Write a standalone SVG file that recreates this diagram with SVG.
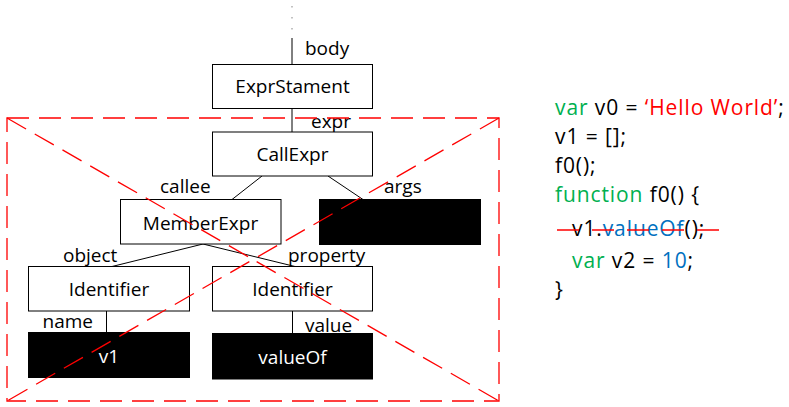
<svg xmlns="http://www.w3.org/2000/svg" width="789" height="407" viewBox="0 0 789 407">
<style>
.box{fill:#fff;stroke:#000;stroke-width:1}
.blk{fill:#000;stroke:#000;stroke-width:1}
.t{font-family:"Open Sans","Noto Sans","Liberation Sans",sans-serif;font-size:19px;fill:#000}
.c{text-anchor:middle}
.w{fill:#fff}
.edge{stroke:#000;stroke-width:1;fill:none}
.red{stroke:#f00;stroke-width:1.3;fill:none;stroke-dasharray:22 10}
.code{font-family:"Open Sans","Noto Sans","Liberation Sans",sans-serif;font-size:21px;letter-spacing:0.9px;fill:#000}
.g{fill:#00b050}
.r{fill:#f00}
.b{fill:#0070c0}
</style>
<rect width="789" height="407" fill="#fff"/>
<g id="connectors">
<line x1="292" y1="6" x2="292" y2="7.5" stroke="#999" stroke-width="1.2"/>
<line x1="292" y1="17" x2="292" y2="18.5" stroke="#999" stroke-width="1.2"/>
<line x1="292" y1="28" x2="292" y2="29.5" stroke="#999" stroke-width="1.2"/>
<line class="edge" x1="292" y1="38" x2="292" y2="64"/>
<line class="edge" x1="292" y1="108" x2="292" y2="132"/>
<line class="edge" x1="262" y1="176" x2="232" y2="199.5"/>
<line class="edge" x1="328" y1="176" x2="363" y2="199.5"/>
<line class="edge" x1="203" y1="244" x2="112" y2="266.5"/>
<line class="edge" x1="203" y1="244" x2="295" y2="266.5"/>
<line class="edge" x1="106.5" y1="311" x2="106.5" y2="332.5"/>
<line class="edge" x1="292.5" y1="311" x2="292.5" y2="333.5"/>
<text class="t" x="305" y="55">body</text>
<text class="t" x="311" y="128">expr</text>
<text class="t" x="160" y="193">callee</text>
<text class="t" x="384" y="193">args</text>
<text class="t" x="63" y="261.5">object</text>
<text class="t" x="288" y="261.5">property</text>
<text class="t" x="42.5" y="328">name</text>
<text class="t" x="305" y="331.5">value</text>
</g>
<g id="ExprStament">
<rect class="box" x="212.5" y="64.5" width="160" height="44"/>
<text class="t c" x="292.5" y="93">ExprStament</text>
</g>
<g id="CallExpr">
<rect class="box" x="212.5" y="132" width="160" height="44"/>
<text class="t c" x="292.5" y="161">CallExpr</text>
</g>
<g id="MemberExpr">
<rect class="box" x="120.5" y="199.5" width="160.5" height="44.5"/>
<text class="t c" x="200.5" y="229.5">MemberExpr</text>
</g>
<g id="args">
<rect class="blk" x="319.5" y="199.5" width="161" height="45"/>
</g>
<g id="Identifier1">
<rect class="box" x="28.5" y="266.5" width="161" height="44.5"/>
<text class="t c" x="109" y="296">Identifier</text>
</g>
<g id="Identifier2">
<rect class="box" x="212.5" y="266.5" width="160" height="44.5"/>
<text class="t c" x="292.5" y="296">Identifier</text>
</g>
<g id="v1">
<rect class="blk" x="28.5" y="332.5" width="161" height="45"/>
<text class="t c w" x="109" y="362.5">v1</text>
</g>
<g id="valueOf">
<rect class="blk" x="212.5" y="333.5" width="160" height="45.5"/>
<text class="t c w" x="292.5" y="363.5">valueOf</text>
</g>
<g id="cross">
<rect class="red" x="7" y="118" width="492" height="283"/>
<line class="red" x1="7" y1="118" x2="499" y2="401"/>
<line class="red" x1="499" y1="118" x2="7" y2="401"/>
</g>
<g id="code">
<text class="code" x="555" y="115"><tspan class="g">var</tspan> v0 = <tspan class="r">‘Hello World’</tspan>;</text>
<text class="code" x="555" y="144">v1 = [];</text>
<text class="code" x="555" y="173">f0();</text>
<text class="code" x="555" y="202"><tspan class="g">function</tspan> f0() {</text>
<text class="code" x="572" y="236">v1.<tspan class="b">valueOf</tspan>();</text>
<text class="code" x="572" y="268"><tspan class="g">var</tspan> v2 = <tspan class="b">10</tspan>;</text>
<text class="code" x="555" y="297">}</text>
<line x1="557" y1="230" x2="720" y2="230" stroke="#f00" stroke-width="1.5" stroke-dasharray="22 13"/>
</g>
</svg>
